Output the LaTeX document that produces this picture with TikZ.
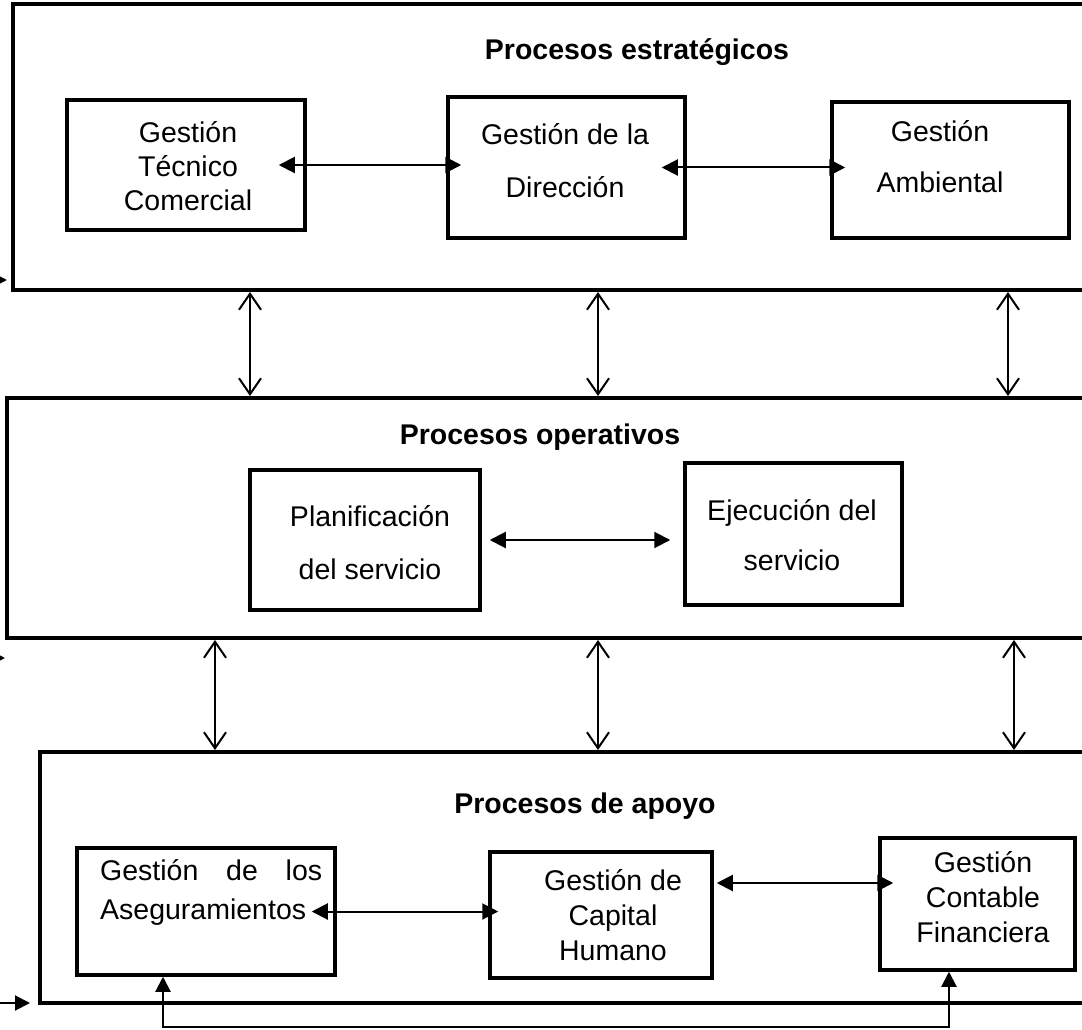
\documentclass[tikz,border=0pt]{standalone}
\usepackage{fontspec}
\setmainfont{Liberation Sans}
\usetikzlibrary{arrows.meta}
\begin{document}
\begin{tikzpicture}[x=1pt,y=-1pt,
  outerbox/.style={draw,line width=4pt,rectangle,inner sep=0pt},
  innerbox/.style={draw,line width=3.5pt,rectangle,inner sep=0pt},
  txt/.style={align=center,inner sep=0pt,font=\fontsize{28.5pt}{34pt}\selectfont},
  ttl/.style={inner sep=0pt,font=\fontsize{28.5pt}{34pt}\selectfont\bfseries},
  harr/.style={line width=2pt,{Triangle[length=16pt,width=16pt]}-{Triangle[length=16pt,width=16pt]}},
  varr/.style={line width=2pt,{Straight Barb[length=16pt,width=22pt]}-{Straight Barb[length=16pt,width=22pt]}},
  uarr/.style={line width=2pt,{Triangle[length=15pt,width=15pt]}-{Triangle[length=15pt,width=15pt]}},
  rarr/.style={line width=2pt,-{Triangle[length=15pt,width=15pt]}}]
\useasboundingbox (0,0) rectangle (1082,1030);
\clip (0,0) rectangle (1082,1030);
% outer boxes
\node[outerbox,minimum width=1082pt,minimum height=286pt] (top) at (554,147) {};
\node[outerbox,minimum width=1088pt,minimum height=240pt] (mid) at (551,518) {};
\node[outerbox,minimum width=1055pt,minimum height=251pt] (bot) at (567.5,877.5) {};
% titles
\node[ttl] (t1) at (637,52) {Procesos estratégicos};
\node[ttl] (t2) at (540,437) {Procesos operativos};
\node[ttl] (t3) at (585,806) {Procesos de apoyo};
% inner boxes
\node[innerbox,minimum width=238pt,minimum height=130pt] (tc) at (186,165) {};
\node[innerbox,minimum width=237pt,minimum height=141pt] (dir) at (566.5,167.5) {};
\node[innerbox,minimum width=237pt,minimum height=136pt] (amb) at (950.5,170) {};
\node[innerbox,minimum width=230pt,minimum height=140pt] (plan) at (365,540) {};
\node[innerbox,minimum width=217pt,minimum height=142pt] (eje) at (793.5,534) {};
\node[innerbox,minimum width=258pt,minimum height=127pt] (ase) at (206,911.5) {};
\node[innerbox,minimum width=222pt,minimum height=126pt] (cap) at (601,915) {};
\node[innerbox,minimum width=195pt,minimum height=132pt] (fin) at (977.5,904) {};
% texts
\node[txt] (tct) at (188,166) {Gestión\\Técnico\\Comercial};
\node[txt,font=\fontsize{28.5pt}{53pt}\selectfont] (dirt) at (565,161) {Gestión de la\\Dirección};
\node[txt,font=\fontsize{28.5pt}{51pt}\selectfont] (ambt) at (940,157) {Gestión\\Ambiental};
\node[txt,font=\fontsize{28.5pt}{53pt}\selectfont] (plant) at (370,543) {Planificación\\del servicio};
\node[txt,font=\fontsize{28.5pt}{50pt}\selectfont] (ejet) at (792,535) {Ejecución del\\servicio};
\node[txt,align=left,anchor=west,font=\fontsize{28.5pt}{39pt}\selectfont] (aset) at (100,892) {\hbox to 222pt{Gestión\hfill de\hfill los}\\Aseguramientos};
\node[txt,font=\fontsize{28.5pt}{35pt}\selectfont] (capt) at (613,915) {Gestión de\\Capital\\Humano};
\node[txt,font=\fontsize{28.5pt}{35pt}\selectfont] (fint) at (983,897) {Gestión\\Contable\\Financiera};
% horizontal arrows
\draw[harr] ([xshift=-28pt]tc.east) -- ([xshift=15pt]dir.west |- tc.east);
\draw[harr] ([xshift=-25pt]dir.east) -- ([xshift=15pt]amb.west |- dir.east);
\draw[harr] ([xshift=8pt]plan.east) -- ([xshift=-13pt]eje.west |- plan.east);
\draw[harr] ([xshift=-25pt]ase.east) -- ([xshift=10pt]cap.west |- ase.east);
\draw[harr] ([shift={(3pt,32pt)}]cap.east) -- ([xshift=15pt,yshift=32pt]fin.west |- cap.east);
% vertical arrows
\coordinate (v1) at (250,0);
\coordinate (v2) at (598,0);
\coordinate (v3) at (1008,0);
\coordinate (w1) at (215,0);
\coordinate (w2) at (598,0);
\coordinate (w3) at (1014,0);
\draw[varr] (top.south -| v1) -- (mid.north -| v1);
\draw[varr] (top.south -| v2) -- (mid.north -| v2);
\draw[varr] (top.south -| v3) -- (mid.north -| v3);
\draw[varr] (mid.south -| w1) -- (bot.north -| w1);
\draw[varr] (mid.south -| w2) -- (bot.north -| w2);
\draw[varr] (mid.south -| w3) -- (bot.north -| w3);
% bottom connector
\coordinate (b1) at (163,1027);
\coordinate (b2) at (949,1027);
\draw[uarr] (ase.south -| b1) -- (b1) -- (b2) -- (fin.south -| b2);
% left arrows
\coordinate (l1s) at (-20,280);
\coordinate (l1t) at (7,280);
\coordinate (l2s) at (-20,658);
\coordinate (l2t) at (5,658);
\coordinate (l3s) at (-5,1003);
\coordinate (l3t) at (30,1003);
\draw[rarr] (l1s) -- (l1t);
\draw[rarr] (l2s) -- (l2t);
\draw[rarr] (l3s) -- (l3t);
\end{tikzpicture}
\end{document}
